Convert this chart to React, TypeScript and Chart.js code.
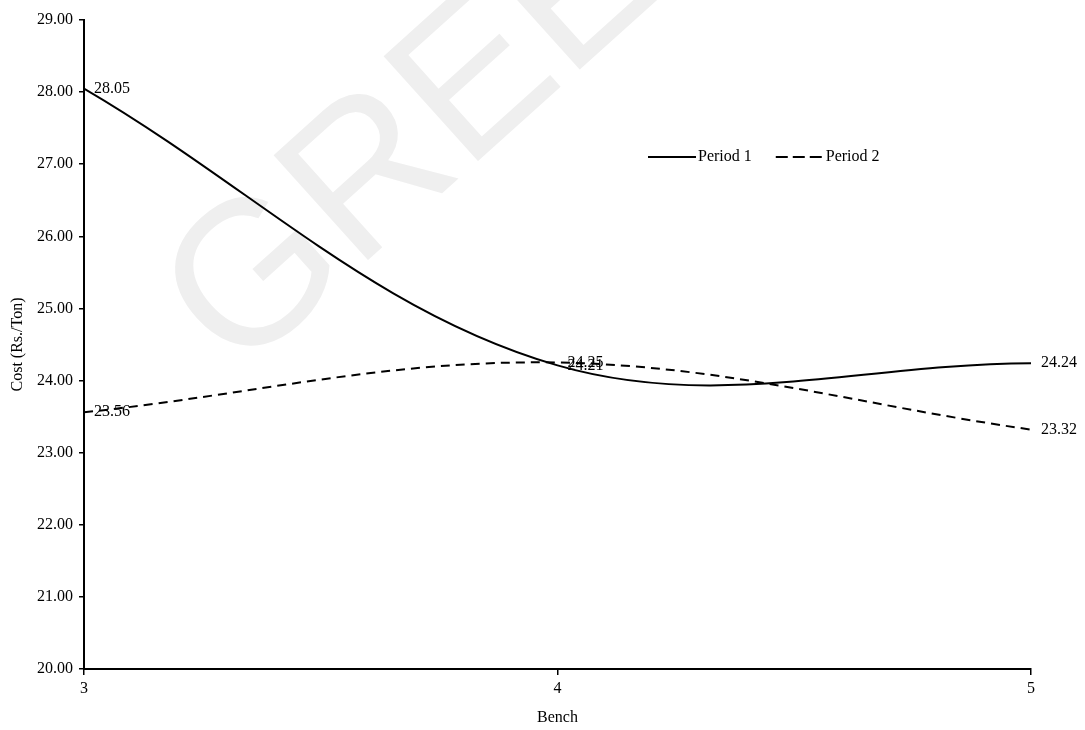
import { useEffect, useRef } from "react";
import { Chart, registerables } from "chart.js";

Chart.register(...registerables);

// Bench numbers along the x axis
const benches = [3, 4, 5];
// Cost per ton for each bench, one array per period
const period1 = [28.05, 24.21, 24.24];
const period2 = [23.56, 24.25, 23.32];
const seriesNames = ["Period 1", "Period 2"];
const seriesDashes: number[][] = [[], [9, 6]];
const legendDashes: number[][] = [[], [12, 5]];

const yMin = 20;
const yMax = 29;
const xTitle = "Bench";
const yTitle = "Cost (Rs./Ton)";
const watermarkText = "GREEN";

const serif = "'Liberation Serif', 'Times New Roman', Times, serif";
const font16 = { family: serif, size: 16 };

// White page plus the faint diagonal watermark behind everything
const backgroundPlugin = {
  id: "pageBackground",
  beforeDraw(chart: any) {
    const { ctx, width, height } = chart;
    ctx.save();
    ctx.fillStyle = "#ffffff";
    ctx.fillRect(0, 0, width, height);
    ctx.translate(237, 378);
    ctx.rotate((-42 * Math.PI) / 180);
    ctx.font = "205px 'Liberation Sans', Arial, sans-serif";
    ctx.fillStyle = "rgb(239,239,239)";
    ctx.textAlign = "left";
    ctx.textBaseline = "alphabetic";
    ctx.fillText(watermarkText, 0, 0);
    ctx.restore();
  },
};

// Value printed to the right of every point
const valueLabelPlugin = {
  id: "valueLabels",
  afterDatasetsDraw(chart: any) {
    const { ctx } = chart;
    ctx.save();
    ctx.font = `16px ${serif}`;
    ctx.fillStyle = "#000";
    ctx.textAlign = "left";
    ctx.textBaseline = "middle";
    chart.data.datasets.forEach((ds: any, i: number) => {
      const meta = chart.getDatasetMeta(i);
      meta.data.forEach((pt: any, j: number) => {
        const v = ds.data[j].y as number;
        ctx.fillText(v.toFixed(2), pt.x + 10, pt.y);
      });
    });
    ctx.restore();
  },
};

// Inline legend row placed inside the plot
const legendPlugin = {
  id: "inlineLegend",
  afterDraw(chart: any) {
    const { ctx } = chart;
    ctx.save();
    ctx.font = `16px ${serif}`;
    ctx.fillStyle = "#000";
    ctx.textAlign = "left";
    ctx.textBaseline = "middle";
    let x = 648;
    const y = 157;
    chart.data.datasets.forEach((ds: any, i: number) => {
      ctx.beginPath();
      ctx.strokeStyle = ds.borderColor;
      ctx.lineWidth = 2;
      ctx.setLineDash(legendDashes[i]);
      ctx.moveTo(x, y);
      ctx.lineTo(x + 48, y);
      ctx.stroke();
      ctx.setLineDash([]);
      ctx.fillText(ds.label, x + 50, y);
      x += 50 + ctx.measureText(ds.label).width + 24;
    });
    ctx.restore();
  },
};

export default function App() {
  const canvasRef = useRef<HTMLCanvasElement | null>(null);

  useEffect(() => {
    if (!canvasRef.current) return;
    const seriesValues = [period1, period2];
    const chart = new Chart(canvasRef.current, {
      type: "line",
      data: {
        datasets: seriesValues.map((vals, i) => ({
          label: seriesNames[i],
          data: benches.map((b, j) => ({ x: b, y: vals[j] })),
          borderColor: "#000000",
          backgroundColor: "#000000",
          borderWidth: 2,
          borderDash: seriesDashes[i],
          pointRadius: 0,
          tension: 0.36,
          fill: false,
        })),
      },
      options: {
        animation: false,
        responsive: false,
        devicePixelRatio: 1,
        layout: { padding: { top: 20, right: 54, left: 0, bottom: 0 } },
        plugins: {
          legend: { display: false },
          tooltip: { enabled: false },
        },
        scales: {
          x: {
            type: "linear",
            min: benches[0],
            max: benches[benches.length - 1],
            ticks: {
              stepSize: 1,
              color: "#000",
              padding: 4,
              font: font16,
              callback: (v: any) => String(v),
            },
            grid: {
              drawOnChartArea: false,
              drawTicks: true,
              tickLength: 6,
              color: "#000",
              lineWidth: 1.5,
            },
            border: { display: true, color: "#000", width: 2 },
            title: {
              display: true,
              text: xTitle,
              color: "#000",
              font: font16,
              padding: { top: 0, bottom: 3 },
            },
            afterFit: (s: any) => {
              s.height = 61;
            },
          },
          y: {
            type: "linear",
            min: yMin,
            max: yMax,
            ticks: {
              stepSize: 1,
              color: "#000",
              padding: 6,
              font: font16,
              callback: (v: any) => Number(v).toFixed(2),
            },
            grid: {
              drawOnChartArea: false,
              drawTicks: true,
              tickLength: 5,
              color: "#000",
              lineWidth: 1.5,
            },
            border: { display: true, color: "#000", width: 2 },
            title: {
              display: true,
              text: yTitle,
              color: "#000",
              font: font16,
              padding: { top: 8, bottom: 0 },
            },
            afterFit: (s: any) => {
              s.width = 84;
            },
          },
        },
      },
      plugins: [backgroundPlugin, valueLabelPlugin, legendPlugin],
    } as any);
    return () => chart.destroy();
  }, []);

  return (
    <div style={{ position: "fixed", left: 0, top: 0, width: 1085, height: 730 }}>
      <canvas ref={canvasRef} width={1085} height={730} style={{ display: "block" }} />
    </div>
  );
}
